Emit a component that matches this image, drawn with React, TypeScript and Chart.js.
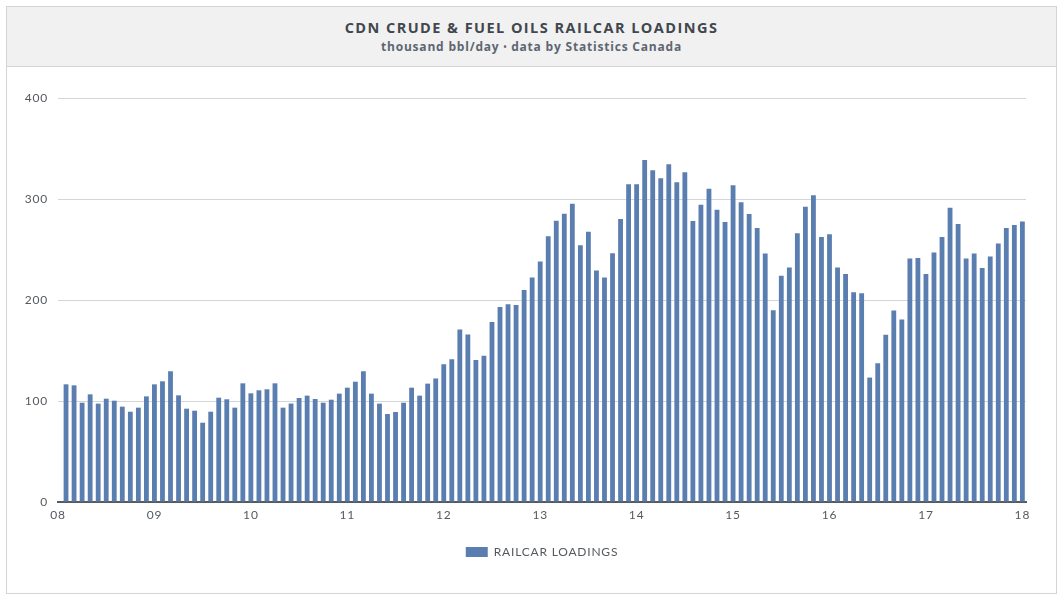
import React, { useEffect, useRef } from "react";
import { Chart, registerables } from "chart.js";

Chart.register(...registerables);

const TITLE = "CDN CRUDE & FUEL OILS RAILCAR LOADINGS";
const SUBTITLE_A = "thousand bbl/day ";
const SUBTITLE_DOT = "•";
const SUBTITLE_B = " data by Statistics Canada";
const SERIES_LABEL = "RAILCAR LOADINGS";

// x tick labels at each year boundary (month index 0, 12, ..., 120)
const yearTickLabels = ["08", "09", "10", "11", "12", "13", "14", "15", "16", "17", "18"];
const yTicks = [0, 100, 200, 300, 400];

// monthly values (thousand bbl/day), Jan..Dec of each year, plotted at month end
const loadings2008 = [116.5, 115.5, 98.3, 106.6, 97.4, 102.3, 100.3, 94.4, 89.4, 93.4, 104.6, 116.5];
const loadings2009 = [119.5, 129.4, 105.6, 92.4, 90.4, 78.5, 89.4, 103.3, 101.7, 93.4, 117.5, 107.6];
const loadings2010 = [110.6, 111.6, 117.5, 93.4, 97.5, 103, 105.3, 102, 98.3, 101.3, 107.3, 113.2];
const loadings2011 = [119.1, 129.4, 107.3, 97.4, 87.1, 89.1, 98.3, 113.2, 105.3, 117.2, 122.3, 136.4];
const loadings2012 = [141.4, 170.9, 165.9, 140.7, 144.7, 178.1, 193, 195.7, 195, 209.9, 222.2, 238.1];
const loadings2013 = [263.2, 278.5, 285.4, 295.4, 254.3, 267.5, 229.1, 222.2, 246.3, 280.3, 314.5, 314.5];
const loadings2014 = [338.7, 328.4, 320.5, 334.4, 316.5, 326.4, 278.2, 294.4, 310.2, 289.4, 277.2, 313.6];
const loadings2015 = [296.7, 285.1, 271.2, 246.1, 189.9, 224, 232.2, 266.1, 292.4, 303.6, 262.3, 265.2];
const loadings2016 = [232.1, 225.8, 207.6, 206.6, 123.2, 137.4, 165.6, 189.7, 180.8, 241.1, 241.7, 225.8];
const loadings2017 = [247, 262.3, 291.4, 275.2, 241.1, 246, 231.8, 243, 256, 271.2, 274.2, 277.8];

const allYears = [
  loadings2008, loadings2009, loadings2010, loadings2011, loadings2012,
  loadings2013, loadings2014, loadings2015, loadings2016, loadings2017,
];

const BAR_COLOR = "#5b7eb0";
const TEXT_COLOR = "#555a5f";
const FONT = "Lato, 'Liberation Sans', sans-serif";
const HEAD_FONT = "'Open Sans', Lato, sans-serif";

const spacingPlugin = {
  id: "letterSpacing",
  beforeLayout(chart: any) {
    chart.ctx.letterSpacing = "0.8px";
  },
  afterLayout(chart: any) {
    const lg = chart.legend;
    const ca = chart.chartArea;
    if (lg && ca) {
      lg.left = ca.left;
      lg.right = ca.right;
    }
  },
  beforeDraw(chart: any) {
    chart.ctx.letterSpacing = "0.8px";
  },
};

export default function App() {
  const canvasRef = useRef<HTMLCanvasElement | null>(null);

  useEffect(() => {
    if (!canvasRef.current) return;
    const points: { x: number; y: number }[] = [];
    allYears.forEach((arr, yi) => {
      arr.forEach((v, mi) => points.push({ x: yi * 12 + mi + 1, y: v }));
    });

    const chart = new Chart(canvasRef.current, {
      type: "bar",
      data: {
        datasets: [
          {
            label: SERIES_LABEL,
            data: points as any,
            backgroundColor: BAR_COLOR,
            borderWidth: 0,
            barPercentage: 0.6,
            categoryPercentage: 1,
          },
        ],
      },
      plugins: [spacingPlugin],
      options: {
        animation: false,
        responsive: true,
        maintainAspectRatio: false,
        layout: { padding: { top: 31, right: 30, bottom: 25, left: 0 } },
        plugins: {
          title: { display: false },
          tooltip: { enabled: false },
          legend: {
            display: true,
            position: "bottom",
            labels: {
              boxWidth: 22,
              boxHeight: 10,
              color: TEXT_COLOR,
              font: { family: FONT, size: 12 },
              padding: 10,
            },
          },
        },
        scales: {
          x: {
            type: "linear",
            offset: false,
            min: 0,
            max: 120.45,
            afterBuildTicks: (scale: any) => {
              scale.ticks = yearTickLabels.map((_, i) => ({ value: i * 12 }));
            },
            afterFit: (scale: any) => {
              scale.height = 34;
            },
            ticks: {
              autoSkip: false,
              maxRotation: 0,
              padding: 6,
              color: TEXT_COLOR,
              font: { family: FONT, size: 12 },
              callback: (v: any) => yearTickLabels[Math.round(Number(v) / 12)] ?? "",
            },
            grid: { display: false, drawTicks: false },
            border: { display: true, color: "#555a5f", width: 2 },
          },
          y: {
            min: 0,
            max: 400,
            afterBuildTicks: (scale: any) => {
              scale.ticks = yTicks.map((v) => ({ value: v }));
            },
            afterFit: (scale: any) => {
              scale.width = 51;
            },
            ticks: {
              padding: 10,
              color: TEXT_COLOR,
              font: { family: FONT, size: 12 },
            },
            grid: {
              drawTicks: false,
              color: (ctx: any) => (ctx.tick && ctx.tick.value === 0 ? "rgba(0,0,0,0)" : "#d3d6d9"),
            },
            border: { display: false },
          },
        },
      },
    });
    return () => chart.destroy();
  }, []);

  return (
    <div
      style={{
        position: "absolute",
        left: 6,
        top: 6,
        width: 1051,
        height: 588,
        boxSizing: "border-box",
        border: "1px solid #d2d4d6",
        background: "#ffffff",
      }}
    >
      <div
        style={{
          height: 59,
          borderBottom: "1px solid #d2d4d6",
          background: "#f1f1f1",
          textAlign: "center",
          fontFamily: HEAD_FONT,
        }}
      >
        <div
          style={{
            paddingTop: 12,
            fontSize: 14.5,
            fontWeight: 700,
            color: "#41474d",
            letterSpacing: "1.45px",
            lineHeight: "18px",
          }}
        >
          {TITLE}
        </div>
        <div
          style={{
            marginTop: 2,
            fontSize: 12,
            fontWeight: 700,
            color: "#5d6670",
            letterSpacing: "0.8px",
            lineHeight: "15px",
          }}
        >
          {SUBTITLE_A}
          <span style={{ fontSize: 8, verticalAlign: "1px" }}>{SUBTITLE_DOT}</span>
          {SUBTITLE_B}
        </div>
      </div>
      <div style={{ position: "relative", width: 1049, height: 526 }}>
        <canvas ref={canvasRef} />
      </div>
    </div>
  );
}
